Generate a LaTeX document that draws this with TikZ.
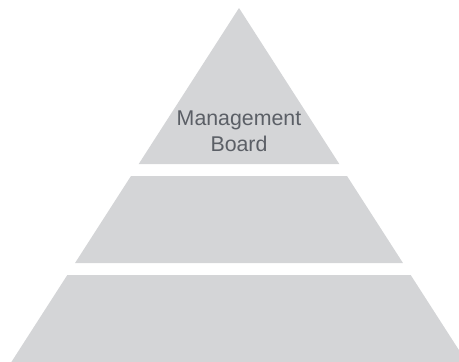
\documentclass[tikz,border=0pt]{standalone}
\usepackage{fontspec}
\setmainfont{Liberation Sans}
\definecolor{tierfill}{HTML}{D4D5D7}
\definecolor{tiertext}{HTML}{5B5F66}
\begin{document}
\begin{tikzpicture}[x=0.75pt,y=-0.75pt,
		tier/.style = {fill=tierfill, draw=none},
		lbl/.style = {text=tiertext, align=center, inner sep=0pt,
			font=\fontsize{16}{19.5}\selectfont}
		]
		\useasboundingbox (0,0) rectangle (459,361);
		\clip (0,0) rectangle (459,361);
		\coordinate (apex) at (239,8);
		% three tiers, sides follow one slope from the apex
		\foreach \ytop/\ybot in {8/164, 176/263, 275/380}{
			\pgfmathsetmacro\wt{0.643*(\ytop-8)}
			\pgfmathsetmacro\wb{0.643*(\ybot-8)}
			\fill[tier] (239-\wt,\ytop) -- (239+\wt,\ytop) -- (239+\wb,\ybot) -- (239-\wb,\ybot) -- cycle;
		}
		\node (board) [lbl] at (239,131) {Management\\Board};
	\end{tikzpicture}
\end{document}
